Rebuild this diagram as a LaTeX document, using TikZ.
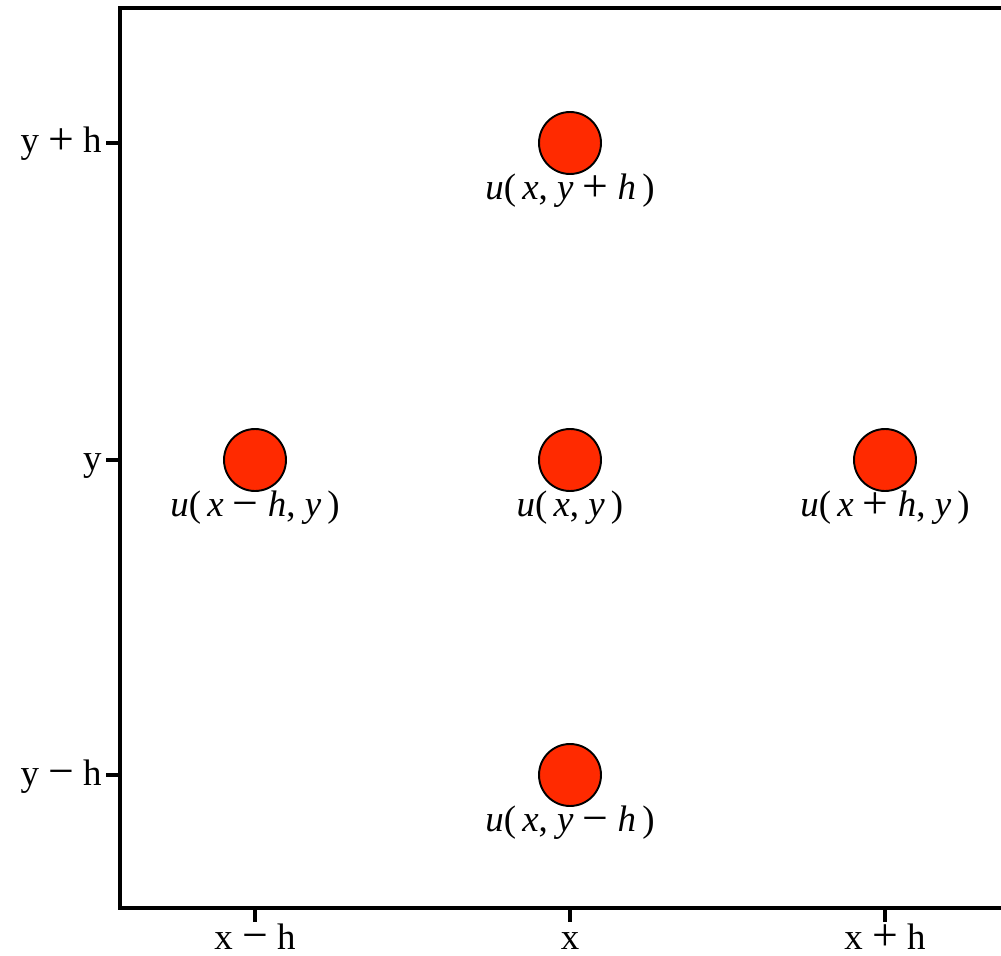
\documentclass[tikz,border=0pt]{standalone}
\usepackage{fontspec}
\setmainfont{Liberation Serif}
\usetikzlibrary{positioning}
\definecolor{dotred}{HTML}{FF2A00}
\tikzset{
  every node/.style={font=\fontsize{21}{24}\selectfont},
  frame/.style={line width=2pt, draw=black},
  axistick/.style={line width=2pt, draw=black},
  gridpt/.style={circle, draw=black, line width=1.1pt, fill=dotred, minimum size=1.24cm, inner sep=0pt},
  ptlabel/.style={anchor=base, inner sep=0pt},
  ticklabel/.style={inner sep=0pt},
}
\newcommand{\ital}[1]{\textit{#1}}
\newcommand{\op}[1]{{\fontsize{26}{24}\selectfont\raisebox{-0.6pt}{#1}}}

\begin{document}
\begin{tikzpicture}[x=0.02cm, y=-0.02cm]
\useasboundingbox (0,0) rectangle (1001,956);
% frame, open to the right
\draw[frame] (1010,8) -- (120,8) -- (120,908) -- (1010,908);
% grid points
\node[gridpt] (cT) at (570,143) {};
\node[gridpt] (cL) at (255,460) {};
\node[gridpt] (cC) at (570,460) {};
\node[gridpt] (cR) at (885,460) {};
\node[gridpt] (cB) at (570,775) {};
\node[ptlabel] (lT) at ([yshift=-1.14cm]cT) {\ital{u}(\,\ital{x}, \ital{y} \op{+} \ital{h}\,)};
\node[ptlabel] (lL) at ([yshift=-1.14cm]cL) {\ital{u}(\,\ital{x} \op{−} \ital{h}, \ital{y}\,)};
\node[ptlabel] (lC) at ([yshift=-1.14cm]cC) {\ital{u}(\,\ital{x}, \ital{y}\,)};
\node[ptlabel] (lR) at ([yshift=-1.14cm]cR) {\ital{u}(\,\ital{x} \op{+} \ital{h}, \ital{y}\,)};
\node[ptlabel] (lB) at ([yshift=-1.14cm]cB) {\ital{u}(\,\ital{x}, \ital{y} \op{−} \ital{h}\,)};
% ticks
\foreach \yy/\txt/\nm in {143/y \op{+} h/yp, 460/y/y0, 775/y \op{−} h/ym} {
  \coordinate (t\nm) at (120,\yy);
  \draw[axistick] (t\nm) -- ++(-14,0);
  \node[ticklabel, anchor=base east] (k\nm) at (102,\yy+10) {\txt};
}
\foreach \xx/\txt/\nm in {255/x \op{−} h/xm, 570/x/x0, 885/x \op{+} h/xp} {
  \coordinate (t\nm) at (\xx,908);
  \draw[axistick] (t\nm) -- ++(0,14);
  \node[ticklabel, anchor=base] (k\nm) at (\xx,949) {\txt};
}
\end{tikzpicture}
\end{document}
